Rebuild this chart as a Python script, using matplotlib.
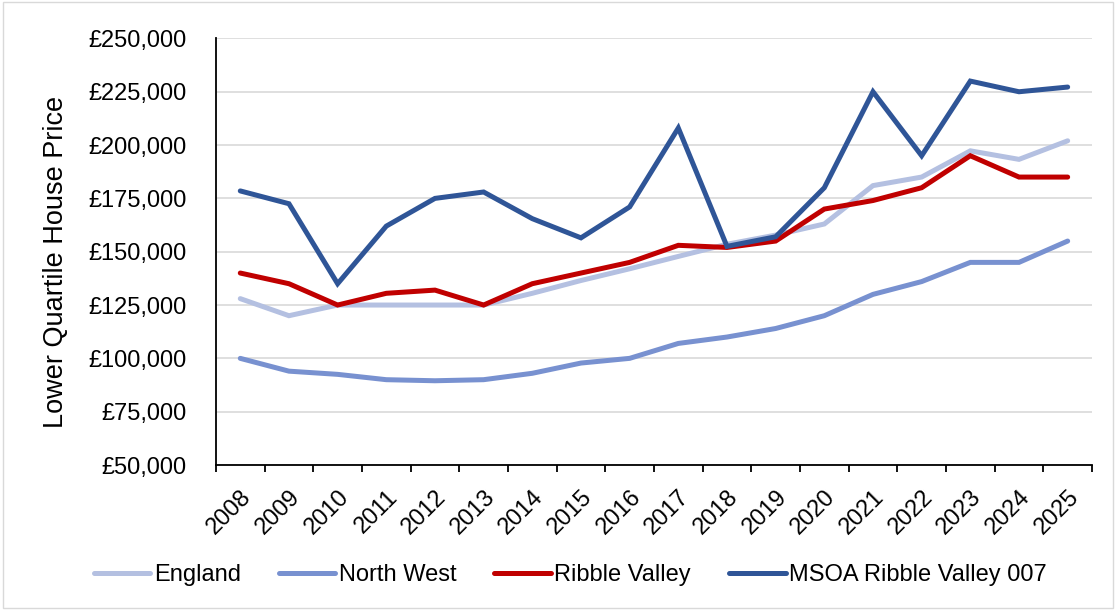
import numpy as np
import matplotlib.pyplot as plt
from matplotlib.ticker import FuncFormatter, FixedLocator
from matplotlib.patches import Rectangle

plt.rcParams['font.family'] = ['Liberation Sans', 'DejaVu Sans']

years = [str(y) for y in range(2008, 2026)]

england = [128000, 120000, 125000, 125000, 125000, 125000, 130500, 136500, 142000,
           147800, 153500, 157800, 163000, 181000, 185000, 197300, 193300, 202000]
north_west = [100000, 94000, 92500, 90000, 89500, 90000, 93000, 97800, 100000,
              107000, 110000, 114000, 120000, 130000, 136000, 145000, 145000, 155000]
ribble_valley = [140000, 135000, 125000, 130500, 132000, 125000, 135000, 140000, 145000,
                 153000, 152000, 155000, 170000, 174000, 180000, 195000, 185000, 185000]
msoa = [178500, 172500, 135000, 162000, 175000, 178000, 165500, 156500, 171000,
        208000, 152500, 157000, 180000, 225000, 195000, 230000, 225000, 227200]

series = [
    ("England", england, "#B4C0E1"),
    ("North West", north_west, "#7891D0"),
    ("Ribble Valley", ribble_valley, "#C00000"),
    ("MSOA Ribble Valley 007", msoa, "#2F5597"),
]

fig = plt.figure(figsize=(11.16, 6.10), dpi=100)
ax = fig.add_axes([0.1935, 0.2377, 0.785, 0.6993])

x = np.arange(len(years))
for name, vals, col in series:
    ax.plot(x, vals, color=col, lw=3.6, label=name, solid_capstyle='round',
            solid_joinstyle='miter')

ax.set_ylim(50000, 250000)
ax.set_yticks(np.arange(50000, 250001, 25000))
ax.yaxis.set_major_formatter(FuncFormatter(lambda v, p: f"£{int(v):,}"))
ax.set_xlim(-0.5, len(years) - 0.5)
ax.set_xticks(x)
ax.set_xticklabels(years, rotation=45, ha='right', rotation_mode='anchor')
ax.xaxis.set_minor_locator(FixedLocator(np.arange(-0.5, len(years), 1.0)))
ax.tick_params(axis='x', which='major', length=0, labelsize=17, pad=15)
ax.tick_params(axis='x', which='minor', length=5, width=1.3, direction='out')
ax.tick_params(axis='y', length=0, labelsize=17, pad=21)

ax.grid(axis='y', color='#D9D9D9', lw=1.2)
ax.set_axisbelow(True)
for s in ['top', 'right']:
    ax.spines[s].set_visible(False)
for s in ['left', 'bottom']:
    ax.spines[s].set_linewidth(1.3)
    ax.spines[s].set_color('black')

ax.set_ylabel("Lower Quartile House Price", fontsize=19.5)
ax.yaxis.set_label_coords(-0.168, 0.475)

fig.legend(loc='center', bbox_to_anchor=(0.511, 0.057), ncol=4, frameon=False,
           fontsize=17, handlelength=2.4, handletextpad=0.15, columnspacing=1.6)

fig.patches.append(Rectangle((0.003, 0.003), 0.994, 0.994, transform=fig.transFigure,
                             fill=False, edgecolor='#D9D9D9', lw=1))

fig.savefig("out.png", dpi=100)
